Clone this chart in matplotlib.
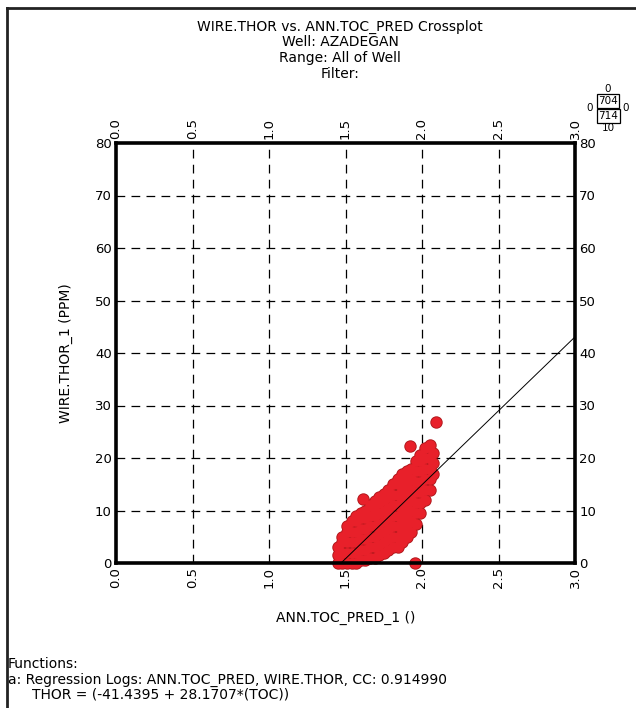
import matplotlib
matplotlib.use("Agg")
import matplotlib.pyplot as plt
from matplotlib.lines import Line2D

# axis ticks
x_ticks = [0.0, 0.5, 1.0, 1.5, 2.0, 2.5, 3.0]
y_ticks = [0, 10, 20, 30, 40, 50, 60, 70, 80]

# crossplot points (ANN.TOC_PRED, WIRE.THOR)
toc = [1.45, 1.45, 1.45,
       1.48, 1.48, 1.48, 1.48,
       1.51, 1.51, 1.51, 1.51, 1.51,
       1.54, 1.54, 1.54, 1.54, 1.54,
       1.57, 1.57, 1.57, 1.57, 1.57, 1.57,
       1.60, 1.60, 1.60, 1.60, 1.60, 1.60,
       1.63, 1.63, 1.63, 1.63, 1.63, 1.63,
       1.66, 1.66, 1.66, 1.66, 1.66, 1.66,
       1.69, 1.69, 1.69, 1.69, 1.69, 1.69, 1.69,
       1.72, 1.72, 1.72, 1.72, 1.72, 1.72, 1.72,
       1.75, 1.75, 1.75, 1.75, 1.75, 1.75, 1.75,
       1.78, 1.78, 1.78, 1.78, 1.78, 1.78, 1.78,
       1.81, 1.81, 1.81, 1.81, 1.81, 1.81, 1.81,
       1.84, 1.84, 1.84, 1.84, 1.84, 1.84, 1.84, 1.84,
       1.87, 1.87, 1.87, 1.87, 1.87, 1.87, 1.87, 1.87,
       1.90, 1.90, 1.90, 1.90, 1.90, 1.90, 1.90, 1.90,
       1.93, 1.93, 1.93, 1.93, 1.93, 1.93, 1.93,
       1.96, 1.96, 1.96, 1.96, 1.96, 1.96, 1.96,
       1.99, 1.99, 1.99, 1.99, 1.99, 1.99, 1.99,
       2.02, 2.02, 2.02, 2.02, 2.02, 2.02,
       2.05, 2.05, 2.05, 2.05, 2.05,
       2.07, 2.07, 2.07,
       2.09, 1.92, 1.616, 1.686, 1.955, 1.856]
thor = [0, 1.5, 3,
        0, 2, 4, 5,
        0, 2, 4, 6, 7,
        0, 2, 4, 6, 8,
        0, 2, 4, 6, 8, 9,
        0.5, 2.5, 4.5, 6.5, 8.5, 9.5,
        0.5, 2.5, 4.5, 6.5, 8.5, 10,
        1, 3, 5, 7, 9, 11,
        1, 3, 5, 7, 9, 11, 11.8,
        1.5, 3.5, 5.5, 7.5, 9.5, 11.5, 12.5,
        2, 4, 6, 8, 10, 12, 13.2,
        2.5, 4.5, 6.5, 8.5, 10.5, 12.5, 14,
        3, 5, 7, 9, 11, 13, 15,
        3, 5, 7, 9, 11, 13, 15, 16,
        4, 6, 8, 10, 12, 14, 16, 17,
        5, 7, 9, 11, 13, 15, 17, 17.5,
        6, 8, 10, 12, 14, 16, 18,
        7.5, 9.5, 11.5, 13.5, 15.5, 17.5, 19.5,
        9.5, 11.5, 13.5, 15.5, 17.5, 19.5, 20.5,
        12, 14, 16, 18, 20, 22,
        14, 16, 18, 20, 22.5,
        17, 19, 21,
        26.9, 22.3, 12.2, 10.4, 0, 4.1]

# regression: THOR = a + b*TOC
reg_a = -41.4395
reg_b = 28.1707
reg_x = [-reg_a / reg_b, 3.0]

title_lines = ["WIRE.THOR vs. ANN.TOC_PRED Crossplot",
               "Well: AZADEGAN",
               "Range: All of Well",
               "Filter:"]

fig = plt.figure(figsize=(6.36, 7.08), dpi=100)
ax = fig.add_axes([116/636, 1 - 563/708, 459/636, 420/708])

# dark rim underneath, solid red on top -> only the outer outline shows
ax.scatter(toc, thor, s=80, c="#b0181c", linewidths=0, zorder=3, clip_on=False)
ax.scatter(toc, thor, s=58, c="#e8202a", linewidths=0, zorder=3.5, clip_on=False)
ax.plot(reg_x, [reg_a + reg_b * v for v in reg_x], color="black", lw=0.7, zorder=4)

ax.set_xlim(0, 3)
ax.set_ylim(0, 80)
ax.set_xticks(x_ticks)
ax.set_yticks(y_ticks)
ax.set_xticklabels([f"{v:.1f}" for v in x_ticks], rotation=90)
ax.set_yticklabels([str(v) for v in y_ticks])
ax.tick_params(length=0, labelsize=9.5, pad=3,
               top=True, labeltop=True, right=True, labelright=True)
for s in ax.spines.values():
    s.set_linewidth(2.6)
    s.set_zorder(5)
for v in x_ticks[1:-1]:
    ax.axvline(v, color="black", lw=0.9, ls=(0, (7, 5)), zorder=1)
for v in y_ticks[1:-1]:
    ax.axhline(v, color="black", lw=0.9, ls=(0, (7, 5)), zorder=1)

ax.set_ylabel("WIRE.THOR_1 (PPM)", fontsize=10, labelpad=16)
ax.set_xlabel("ANN.TOC_PRED_1 ()", fontsize=10, labelpad=16)

for i, t in enumerate(title_lines):
    fig.text(340/636, 1 - (27 + 15.5*i)/708, t, ha="center", va="center", fontsize=10)

# count box in the corner
fig.text(608/636, 1 - 89/708, "0", ha="center", va="center", fontsize=7.5)
fig.text(608/636, 1 - 101/708, "704", ha="center", va="center", fontsize=7.5,
         bbox=dict(boxstyle="square,pad=0.15", fc="white", ec="black", lw=0.9))
fig.text(608/636, 1 - 116/708, "714", ha="center", va="center", fontsize=7.5,
         bbox=dict(boxstyle="square,pad=0.15", fc="white", ec="black", lw=0.9))
fig.text(608/636, 1 - 128/708, "10", ha="center", va="center", fontsize=7.5)
fig.text(590/636, 1 - 108/708, "0", ha="center", va="center", fontsize=7.5)
fig.text(626/636, 1 - 108/708, "0", ha="center", va="center", fontsize=7.5)

fig.text(8/636, 1 - 664/708, "Functions:", ha="left", va="center", fontsize=10)
fig.text(8/636, 1 - 680/708, "a: Regression Logs: ANN.TOC_PRED, WIRE.THOR, CC: 0.914990",
         ha="left", va="center", fontsize=10)
fig.text(32/636, 1 - 695/708, f"THOR = ({reg_a} + {reg_b}*(TOC))",
         ha="left", va="center", fontsize=10)

# outer frame (left and top edges)
fig.add_artist(Line2D([7/636, 7/636], [0, 1 - 8/708], color="#222222", lw=2))
fig.add_artist(Line2D([7/636, 1], [1 - 8/708, 1 - 8/708], color="#222222", lw=2))

fig.savefig("out.png", dpi=100)
